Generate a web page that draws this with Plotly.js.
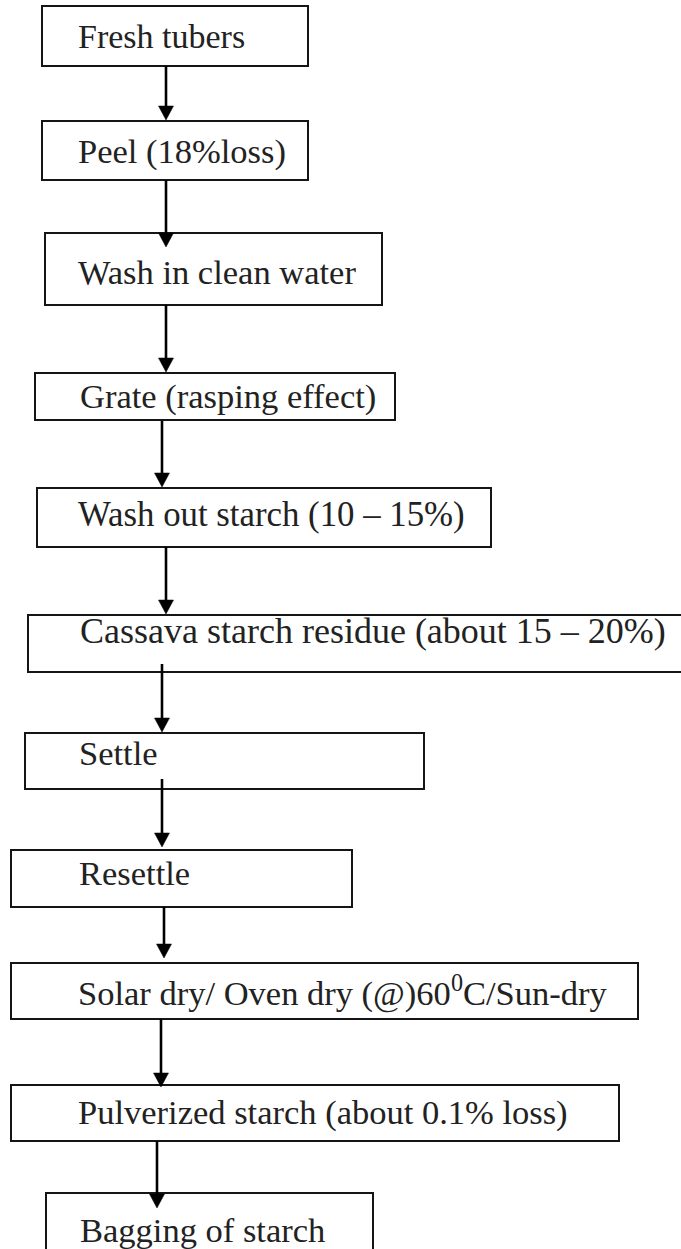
<!DOCTYPE html>
<html>
<head>
<meta charset="utf-8">
<script src="https://cdn.plot.ly/plotly-3.0.1.min.js"></script>
<style>html,body{margin:0;padding:0;background:#fff;}#chart{width:681px;height:1249px;}</style>
</head>
<body>
<div id="chart"></div>
<script>
// Flowchart steps (text content)
const steps = [
  "Fresh tubers",
  "Peel (18%loss)",
  "Wash in clean water",
  "Grate (rasping effect)",
  "Wash out starch (10 \u2013 15%)",
  "Cassava starch residue (about 15 \u2013 20%)",
  "Settle",
  "Resettle",
  "Solar dry/ Oven dry (@)60<sup>0</sup>C/Sun-dry",
  "Pulverized starch (about 0.1% loss)",
  "Bagging of starch"
];

// Box geometry (layout, in page pixels)
const boxLeft   = [42, 42, 45, 35, 37, 28, 25, 11, 11, 11, 46];
const boxRight  = [308, 308, 382, 395, 491, 700, 424, 352, 638, 619, 373];
const boxTop    = [6, 121, 233, 373, 488, 615, 733, 850, 963, 1085, 1193];
const boxBottom = [66, 180, 305, 420, 547, 672, 789, 907, 1019, 1141, 1270];
const labelX    = [76, 76, 76, 78, 76, 78, 77, 77, 76, 76, 78];
const labelY    = [36, 151, 272, 396, 514, 631, 753, 873, 991, 1112, 1230];
const labelSize = [34, 34.5, 34.5, 34.5, 34.8, 36, 34.5, 34.5, 34.5, 34.5, 34.5];

// Connector arrows (layout)
const arrowX    = [166, 166, 166, 162, 166, 162, 162, 164, 161, 157];
const arrowFrom = [66, 180, 305, 421, 547, 664, 779, 907, 1019, 1141];
const arrowTo   = [120, 247, 372, 487, 614, 732, 847, 958, 1087, 1208];

const ink = "#151515";
const headLen = 14, headHalf = 7.5;

const shapes = [];
for (let i = 0; i < steps.length; i++) {
  shapes.push({
    type: "rect", xref: "x", yref: "y",
    x0: boxLeft[i], x1: boxRight[i], y0: boxTop[i], y1: boxBottom[i],
    line: {color: ink, width: 2}, fillcolor: "rgba(0,0,0,0)", layer: "above"
  });
}
for (let i = 0; i < arrowX.length; i++) {
  shapes.push({
    type: "line", xref: "x", yref: "y",
    x0: arrowX[i], x1: arrowX[i], y0: arrowFrom[i], y1: arrowTo[i] - headLen + 1,
    line: {color: "#000", width: 2.6}, layer: "above"
  });
  const x = arrowX[i], t = arrowTo[i];
  shapes.push({
    type: "path", xref: "x", yref: "y",
    path: `M ${x - headHalf},${t - headLen} L ${x + headHalf},${t - headLen} L ${x},${t} Z`,
    fillcolor: "#000", line: {color: "#000", width: 0.5}, layer: "above"
  });
}

const annotations = steps.map((s, i) => ({
  x: labelX[i], y: labelY[i], xref: "x", yref: "y",
  text: s, showarrow: false, xanchor: "left", yanchor: "middle",
  font: {family: "Liberation Serif", size: labelSize[i], color: "#222"}
}));

const data = [{x: [0], y: [0], type: "scatter", mode: "markers", marker: {opacity: 0}, hoverinfo: "skip", showlegend: false}];

const layout = {
  width: 681, height: 1249,
  margin: {l: 0, r: 0, t: 0, b: 0, pad: 0},
  paper_bgcolor: "#fff", plot_bgcolor: "#fff",
  xaxis: {range: [0, 681], visible: false, fixedrange: true},
  yaxis: {range: [1249, 0], visible: false, fixedrange: true},
  shapes: shapes,
  annotations: annotations,
  showlegend: false
};

Plotly.newPlot("chart", data, layout, {staticPlot: true, displayModeBar: false});
</script>
</body>
</html>
